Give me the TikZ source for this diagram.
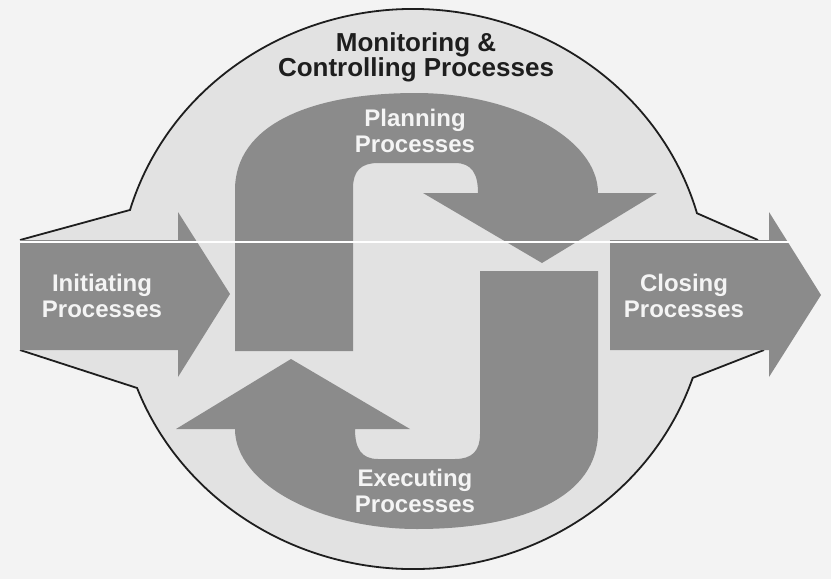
\documentclass[tikz,border=0pt]{standalone}
\usepackage{fontspec}
\setmainfont{Liberation Sans}
\usetikzlibrary{positioning}
\definecolor{paper}{HTML}{F3F3F3}
\definecolor{field}{HTML}{E2E2E2}
\definecolor{bandgray}{HTML}{8B8B8B}
\definecolor{ink}{HTML}{1E1E1E}
\definecolor{chalk}{HTML}{F4F4F4}
\begin{document}
\begin{tikzpicture}[
  x=1pt, y=-1pt,
  band/.style={fill=bandgray},
  rim/.style={draw=ink, line width=1.8pt},
  lbl/.style={align=center, text=chalk, font=\bfseries\fontsize{24}{26}\selectfont},
  heading/.style={align=center, text=ink, font=\bfseries\fontsize{26}{25}\selectfont}
]
\useasboundingbox (0,0) rectangle (831,579);
\fill[paper] (0,0) rectangle (831,579);

% Monitoring field
\fill[field] (20,240) -- ([shift={(413,289)}]-163.6:295 and 280)
  arc[start angle=-163.6, end angle=-15.7, x radius=295, y radius=280]
  -- (758,240) -- (764,350) -- ([shift={(413,289)}]18.5:295 and 280)
  arc[start angle=18.5, end angle=159.3, x radius=295, y radius=280]
  -- (20,350) -- cycle;
\draw[rim] (20,240) -- ([shift={(413,289)}]-163.6:295 and 280)
  arc[start angle=-163.6, end angle=-15.7, x radius=295, y radius=280]
  -- (758,240);
\draw[rim] (764,350) -- ([shift={(413,289)}]18.5:295 and 280)
  arc[start angle=18.5, end angle=159.3, x radius=295, y radius=280]
  -- (20,350);

% Initiating and closing arrows
\fill[band] (20,240) -- (178,240) -- (178,212) -- (230,294) -- (178,377) -- (178,350) -- (20,350) -- cycle;
\fill[band] (610,240) -- (769,240) -- (769,212) -- (821,295) -- (769,377) -- (769,350) -- (610,350) -- cycle;

% Planning / executing cycle
\foreach \turn in {0,180}
  \fill[band, rotate around={\turn:(416.5,311)}] (235,351) -- (235,190)
    .. controls (235,125) and (310,93) .. (416,93)
    .. controls (512,93) and (598,138) .. (598,193)
    -- (657,193) -- (542,263) -- (423,193) -- (478,193)
    .. controls (478,174) and (472,163) .. (455,163) -- (378,163)
    .. controls (361,163) and (353,171) .. (353,188) -- (353,351) -- cycle;

\draw[white, line width=1.2pt] (20,242) -- (790,242);

% Labels
\node[heading] (monitor) at (416,57) {Monitoring \&\\Controlling Processes};
\node[lbl] (plan) at (415,131) {Planning\\Processes};
\node[lbl, below of=plan, node distance=360pt] (exec) {Executing\\Processes};
\node[lbl] (init) at (102,296) {Initiating\\Processes};
\node[lbl, right of=init, node distance=582pt] (close) {Closing\\Processes};
\end{tikzpicture}
\end{document}
